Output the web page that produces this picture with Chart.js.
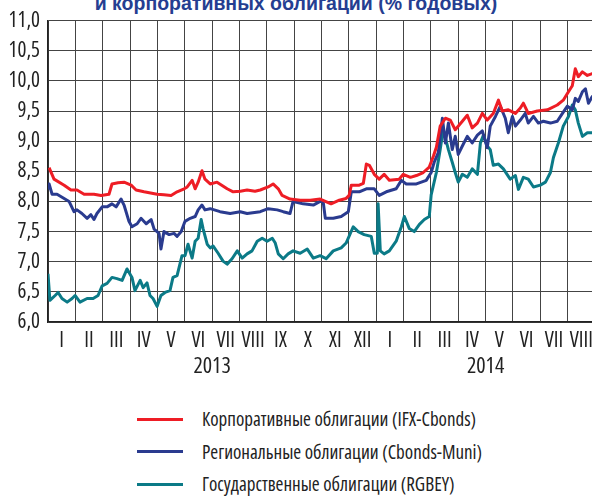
<!DOCTYPE html>
<html lang="ru">
<head>
<meta charset="utf-8">
<script src="https://cdn.jsdelivr.net/npm/chart.js@4.4.1/dist/chart.umd.min.js"></script>
<style>
  html, body { margin: 0; padding: 0; background: #fff; overflow: hidden; width: 592px; height: 498px; }
  #title { position: absolute; left: 0; top: -7px; width: 592px; text-align: center; white-space: nowrap;
           font: bold 19.5px 'Liberation Sans', Arial, sans-serif; line-height: 20px; color: #253e91; }
  #wrap { position: absolute; left: 0; top: 0; width: 600px; height: 390px; }
  #legend { position: absolute; left: 137px; top: 403px; color: #222;
            font-family: 'Open Sans', sans-serif; font-size: 19px; font-stretch: condensed; }
  .item { height: 32.5px; display: flex; align-items: center; white-space: nowrap; }
  .swatch { width: 46px; height: 3px; margin-right: 19px; }
</style>
</head>
<body>
<div id="title">и корпоративных облигаций (% годовых)</div>
<div id="wrap"><canvas id="chart" width="600" height="390"></canvas></div>
<div id="legend"></div>
<script>
// Доходности облигаций, % годовых; ось X - месяцы с начала января 2013
const monthLabels = ['I', 'II', 'III', 'IV', 'V', 'VI', 'VII', 'VIII', 'IX', 'X', 'XI', 'XII',
                     'I', 'II', 'III', 'IV', 'V', 'VI', 'VII', 'VIII'];
const yearLabels = ['2013', '2014'];
const yearCenters = [6, 16];

const seriesNames = [
    'Корпоративные облигации (IFX-Cbonds)',
    'Региональные облигации (Cbonds-Muni)',
    'Государственные облигации (RGBEY)'
];
const seriesColors = ['#ee1d25', '#2a3b8f', '#0b7a87'];

// Корпоративные (IFX-Cbonds)
const corpT = [0.04, 0.22, 0.59, 0.84, 1.06, 1.32, 1.68, 1.94, 2.23, 2.34, 2.56, 2.78, 3.04, 3.22, 3.51, 3.99,
    4.24, 4.50, 4.72, 4.98, 5.09, 5.27, 5.38, 5.49, 5.63, 5.74, 5.93, 6.18, 6.55, 6.77, 7.03, 7.28, 7.57, 7.76,
    8.05, 8.23, 8.42, 8.56, 8.85, 9.22, 9.59, 9.95, 10.35, 10.65, 10.90, 11.01, 11.09, 11.38, 11.53, 11.64,
    11.75, 11.93, 12.11, 12.29, 12.48, 12.84, 12.99, 13.25, 13.47, 13.72, 13.94, 14.09, 14.20, 14.34, 14.53,
    14.71, 14.89, 15.15, 15.33, 15.51, 15.70, 15.88, 16.06, 16.28, 16.47, 16.61, 16.83, 17.09, 17.27, 17.38,
    17.56, 17.89, 18.26, 18.62, 18.84, 18.99, 19.17, 19.28, 19.39, 19.54, 19.72, 19.90, 20.0];
const corpV = [8.56, 8.37, 8.27, 8.19, 8.19, 8.12, 8.12, 8.10, 8.12, 8.29, 8.31, 8.32, 8.27, 8.19, 8.16, 8.12,
    8.11, 8.10, 8.16, 8.21, 8.24, 8.35, 8.21, 8.32, 8.51, 8.37, 8.29, 8.32, 8.21, 8.16, 8.17, 8.19, 8.17, 8.19,
    8.24, 8.29, 8.21, 8.10, 8.04, 8.02, 8.02, 8.04, 7.96, 8.02, 8.05, 8.10, 8.27, 8.27, 8.30, 8.62,
    8.60, 8.45, 8.37, 8.45, 8.35, 8.37, 8.45, 8.40, 8.43, 8.48, 8.57, 8.75, 8.90, 9.25, 9.38,
    9.35, 9.19, 9.33, 9.43, 9.22, 9.30, 9.46, 9.35, 9.46, 9.68, 9.50, 9.52, 9.46, 9.55, 9.63,
    9.46, 9.50, 9.52, 9.60, 9.68, 9.79, 9.92, 10.20, 10.07, 10.15, 10.09, 10.12, 10.10];

// Региональные (Cbonds-Muni)
const muniT = [0.00, 0.04, 0.15, 0.33, 0.59, 0.77, 0.95, 1.06, 1.24, 1.43, 1.57, 1.68, 1.79, 1.98, 2.16, 2.34,
    2.49, 2.67, 2.78, 2.96, 3.07, 3.26, 3.40, 3.59, 3.77, 3.88, 4.06, 4.13, 4.24, 4.43, 4.61, 4.72, 4.87, 5.01,
    5.20, 5.38, 5.49, 5.63, 5.74, 5.93, 6.29, 6.66, 7.03, 7.28, 7.76, 8.05, 8.38, 8.60, 8.85, 8.96, 9.33, 9.70,
    9.95, 10.06, 10.14, 10.43, 10.72, 10.98, 11.09, 11.38, 11.64, 11.93, 12.11, 12.37, 12.73, 12.92, 13.10,
    13.47, 13.83, 14.01, 14.12, 14.27, 14.42, 14.53, 14.64, 14.78, 14.89, 15.00, 15.15, 15.33, 15.51, 15.70,
    15.88, 16.06, 16.17, 16.36, 16.54, 16.72, 16.83, 16.98, 17.09, 17.27, 17.45, 17.56, 17.75, 17.93, 18.11,
    18.37, 18.62, 18.81, 18.99, 19.17, 19.28, 19.39, 19.54, 19.65, 19.76, 19.90, 20.0];
const muniV = [8.20, 8.29, 8.12, 8.12, 8.05, 8.00, 7.83, 7.86, 7.80, 7.72, 7.78, 7.70, 7.80, 7.91, 7.91, 7.96,
    7.91, 8.04, 7.94, 7.67, 7.58, 7.63, 7.72, 7.63, 7.70, 7.54, 7.47, 7.21, 7.50, 7.45, 7.47, 7.42, 7.50, 7.67,
    7.72, 7.75, 7.86, 7.94, 7.86, 7.88, 7.83, 7.80, 7.83, 7.80, 7.83, 7.88, 7.86, 7.83, 7.80, 8.00, 7.96, 7.94,
    8.00, 8.00, 7.72, 7.72, 7.75, 7.83, 8.16, 8.16, 8.21, 8.21, 8.10, 8.16, 8.21, 8.35, 8.29,
    8.29, 8.35, 8.48, 8.65, 8.81, 9.38, 8.97, 9.30, 8.86, 9.08, 8.78, 8.92, 9.08, 8.97, 9.10,
    9.17, 8.89, 9.25, 9.41, 9.58, 9.38, 9.14, 9.41, 9.25, 9.35, 9.46, 9.30, 9.41, 9.30, 9.33,
    9.30, 9.33, 9.46, 9.58, 9.52, 9.71, 9.66, 9.82, 9.87, 9.63, 9.74, 9.72];

// Государственные (RGBEY)
const govT = [0.00, 0.07, 0.26, 0.37, 0.51, 0.70, 0.88, 0.99, 1.17, 1.43, 1.65, 1.83, 1.98, 2.16, 2.34, 2.52,
    2.71, 2.89, 3.07, 3.18, 3.37, 3.48, 3.62, 3.73, 3.84, 3.99, 4.13, 4.28, 4.46, 4.57, 4.72, 4.90, 5.01, 5.12,
    5.27, 5.38, 5.49, 5.60, 5.67, 5.82, 5.93, 6.04, 6.22, 6.40, 6.55, 6.73, 6.92, 7.10, 7.28, 7.46, 7.65, 7.83,
    8.01, 8.20, 8.31, 8.42, 8.60, 8.78, 8.96, 9.22, 9.48, 9.70, 9.95, 10.17, 10.43, 10.72, 10.90, 11.16, 11.34,
    11.56, 11.82, 11.93, 12.04, 12.07, 12.15, 12.29, 12.48, 12.73, 12.92, 13.03, 13.21, 13.39, 13.58, 13.76,
    13.94, 14.01, 14.20, 14.34, 14.45, 14.64, 14.78, 14.89, 15.00, 15.15, 15.33, 15.51, 15.70, 15.81, 15.92,
    16.06, 16.17, 16.28, 16.47, 16.65, 16.90, 17.09, 17.20, 17.38, 17.56, 17.75, 18.00, 18.19, 18.37, 18.48,
    18.66, 18.84, 19.03, 19.17, 19.28, 19.39, 19.54, 19.72, 19.90, 20.0];
const govV = [6.80, 6.36, 6.44, 6.49, 6.39, 6.33, 6.39, 6.44, 6.33, 6.39, 6.39, 6.44, 6.60, 6.64, 6.74, 6.72,
    6.69, 6.88, 6.74, 6.52, 6.69, 6.57, 6.65, 6.44, 6.39, 6.26, 6.44, 6.49, 6.52, 6.74, 6.77, 7.10, 7.10, 7.29,
    7.06, 7.34, 7.39, 7.70, 7.55, 7.29, 7.23, 7.26, 7.14, 7.01, 6.96, 7.05, 7.18, 7.06, 7.13, 7.18, 7.34, 7.39,
    7.34, 7.39, 7.31, 7.13, 7.05, 7.13, 7.18, 7.14, 7.21, 7.06, 7.10, 7.05, 7.18, 7.23, 7.31, 7.58, 7.50,
    7.45, 7.42, 7.14, 7.14, 7.96, 7.18, 7.13, 7.18, 7.34, 7.58, 7.75, 7.55, 7.50, 7.62, 7.70,
    7.75, 8.11, 8.48, 8.86, 9.19, 8.86, 8.65, 8.48, 8.32, 8.45, 8.40, 8.54, 8.45, 8.97, 9.10,
    8.92, 8.86, 8.60, 8.62, 8.54, 8.37, 8.43, 8.20, 8.40, 8.37, 8.24, 8.27, 8.32, 8.48, 8.73,
    8.97, 9.25, 9.41, 9.60, 9.52, 9.30, 9.08, 9.14, 9.14, 9.16];

const yMin = 6.0, yMax = 11.0, yStep = 0.5;

// узкий шрифт для подписей осей (font-stretch через поле weight)
const labelFont = (size) => ({ family: "'Open Sans', sans-serif", size: size, weight: 'condensed' });

function points(ts, vs) {
    return ts.map((t, i) => ({ x: t, y: vs[i] }));
}

const datasets = [
    points(corpT, corpV),
    points(muniT, muniV),
    points(govT, govV)
].map((data, i) => ({
    label: seriesNames[i],
    data: data,
    borderColor: seriesColors[i],
    borderWidth: 3,
    pointRadius: 0,
    tension: 0,
    borderJoinStyle: 'round',
    fill: false
}));

new Chart(document.getElementById('chart'), {
    type: 'line',
    data: { datasets: datasets },
    options: {
        responsive: false,
        animation: false,
        devicePixelRatio: 1,
        layout: { padding: { top: 16, left: 0, right: 5, bottom: 0 } },
        plugins: { legend: { display: false }, tooltip: { enabled: false } },
        scales: {
            // сетка по месяцам
            x: {
                type: 'linear', min: 0, max: monthLabels.length, position: 'bottom',
                afterBuildTicks: s => { s.ticks = monthLabels.map((_, i) => ({ value: i })).concat([{ value: monthLabels.length }]); },
                ticks: { display: false },
                grid: { color: '#444', lineWidth: 1, drawTicks: false },
                border: { color: '#222', width: 1.5 },
                afterFit: s => { s.height = 0; }
            },
            // подписи месяцев
            xm: {
                type: 'linear', min: 0, max: monthLabels.length, position: 'bottom',
                afterBuildTicks: s => { s.ticks = monthLabels.map((_, i) => ({ value: i + 0.5 })); },
                ticks: {
                    autoSkip: false, maxRotation: 0, padding: 6, color: '#222',
                    font: labelFont(21),
                    callback: v => monthLabels[Math.floor(v)]
                },
                grid: { display: false, drawTicks: false },
                border: { display: false },
                afterFit: s => { s.height = 28; }
            },
            // подписи годов
            xy: {
                type: 'linear', min: 0, max: monthLabels.length, position: 'bottom',
                afterBuildTicks: s => { s.ticks = yearCenters.map(v => ({ value: v })); },
                ticks: {
                    autoSkip: false, maxRotation: 0, padding: 4, color: '#222',
                    font: labelFont(22),
                    callback: v => yearLabels[yearCenters.indexOf(v)]
                },
                grid: { display: false, drawTicks: false },
                border: { display: false },
                afterFit: s => { s.height = 40; }
            },
            y: {
                min: yMin, max: yMax,
                ticks: {
                    stepSize: yStep, padding: 8, color: '#222',
                    font: labelFont(21),
                    callback: v => v.toFixed(1).replace('.', ',')
                },
                grid: { color: '#444', lineWidth: 1, drawTicks: false },
                border: { color: '#222', width: 1.5 },
                afterFit: s => { s.width = 48; }
            }
        }
    }
});

// легенда
const legend = document.getElementById('legend');
seriesNames.forEach((name, i) => {
    const row = document.createElement('div');
    row.className = 'item';
    row.innerHTML = '<span class="swatch" style="background:' + seriesColors[i] + '"></span><span>' + name + '</span>';
    legend.appendChild(row);
});
</script>
</body>
</html>
